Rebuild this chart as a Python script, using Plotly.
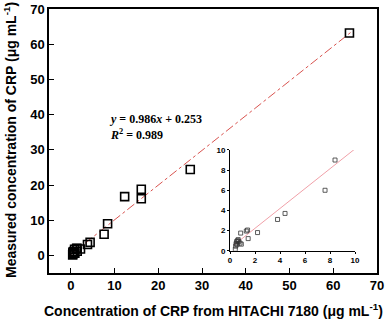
import plotly.graph_objects as go

# Data
hitachi = [0.42, 0.45, 0.48, 0.52, 0.55, 0.60, 0.65, 0.70, 0.80, 0.85, 0.90,
           1.30, 1.40, 1.45, 2.20, 3.80, 4.40, 7.60, 8.40, 12.3, 16.1, 16.1, 27.3, 63.7]
measured = [0.15, 0.45, 0.70, 0.90, 0.60, 1.00, 1.10, 0.90, 0.75, 1.75, 0.65,
            1.95, 2.05, 1.20, 1.80, 3.10, 3.70, 6.00, 9.00, 16.7, 18.8, 16.1, 24.4, 63.2]
slope = 0.986
intercept = 0.253
fit_x_main = [0, 64]
fit_x_inset = [0.3, 10]

inset_x = [x for x in hitachi if x <= 10]
inset_y = [y for x, y in zip(hitachi, measured) if x <= 10]

fig = go.Figure()

fig.add_trace(go.Scatter(
    x=fit_x_main, y=[slope * x + intercept for x in fit_x_main],
    mode="lines", line=dict(color="#d9534f", width=1, dash="dashdot"),
    xaxis="x", yaxis="y", showlegend=False))
fig.add_trace(go.Scatter(
    x=hitachi, y=measured, mode="markers",
    marker=dict(symbol="square-open", size=8, color="black", line=dict(width=1.6, color="black")),
    xaxis="x", yaxis="y", showlegend=False))

fig.add_trace(go.Scatter(
    x=fit_x_inset, y=[slope * x + intercept for x in fit_x_inset],
    mode="lines", line=dict(color="#f0a0a8", width=1),
    xaxis="x2", yaxis="y2", showlegend=False))
fig.add_trace(go.Scatter(
    x=inset_x, y=inset_y, mode="markers",
    marker=dict(symbol="square-open", size=4, color="#333333", line=dict(width=0.8, color="#333333")),
    xaxis="x2", yaxis="y2", showlegend=False))

titlefont = dict(family="Liberation Sans, Arial", size=14, color="black")
tickfont_main = dict(family="Liberation Sans, Arial", size=13, color="black", weight="bold")
tickfont_inset = dict(family="Liberation Sans, Arial", size=8, color="black", weight="bold")

fig.update_layout(
    width=388, height=324,
    margin=dict(l=49, r=11, t=9, b=51),
    paper_bgcolor="white", plot_bgcolor="white",
    xaxis=dict(
        domain=[0, 1], range=[-5, 70], tickvals=[0, 10, 20, 30, 40, 50, 60, 70],
        ticks="inside", ticklen=5, tickwidth=1.2, tickcolor="black",
        showline=True, linecolor="black", linewidth=1.5, mirror=True,
        showgrid=False, zeroline=False, automargin=False,
        tickfont=tickfont_main,
    ),
    yaxis=dict(
        domain=[0, 1], range=[-5, 70], tickvals=[0, 10, 20, 30, 40, 50, 60, 70],
        ticks="inside", ticklen=5, tickwidth=1.2, tickcolor="black",
        showline=True, linecolor="black", linewidth=1.5, mirror=True,
        showgrid=False, zeroline=False, automargin=False,
        tickfont=tickfont_main,
    ),
    xaxis2=dict(
        domain=[0.552, 0.933], range=[0, 10], tickvals=[0, 2, 4, 6, 8, 10],
        anchor="y2", ticks="outside", ticklen=2, tickcolor="black",
        showline=True, linecolor="black", linewidth=1, mirror=False,
        showgrid=False, zeroline=False, automargin=False,
        tickfont=tickfont_inset,
    ),
    yaxis2=dict(
        domain=[0.0845, 0.466], range=[0, 10], tickvals=[0, 2, 4, 6, 8, 10],
        anchor="x2", ticks="outside", ticklen=2, tickcolor="black",
        showline=True, linecolor="black", linewidth=1, mirror=False,
        showgrid=False, zeroline=False, automargin=False,
        tickfont=tickfont_inset,
    ),
)

# axis titles
fig.add_annotation(
    xref="paper", yref="paper", x=0.5, y=-(310 - 273) / 264,
    xanchor="center", yanchor="middle", showarrow=False,
    text="<b>Concentration of CRP from HITACHI 7180 (μg mL<sup>-1</sup>)</b>",
    font=titlefont)
fig.add_annotation(
    xref="paper", yref="paper", x=-(49 - 10) / 328, y=(273 - 140) / 264, textangle=-90,
    xanchor="center", yanchor="middle", showarrow=False,
    text="<b>Measured concentration of CRP (μg mL<sup>-1</sup>)</b>",
    font=titlefont)

fig.add_annotation(
    xref="paper", yref="paper", x=(107 - 49) / 328, y=(273 - 127) / 264,
    xanchor="left", yanchor="middle", showarrow=False, align="left",
    text="<b><i>y</i> = 0.986<i>x</i> + 0.253</b><br><b><i>R</i><sup>2</sup> = 0.989</b>",
    font=dict(family="Liberation Serif, DejaVu Serif", size=12, color="black"))

fig.write_html("out.html", config={"displayModeBar": False},
               post_script="document.body.style.margin='0';")
